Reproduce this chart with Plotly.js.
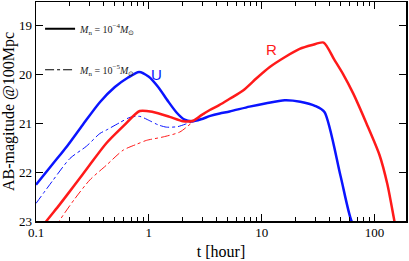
<!DOCTYPE html>
<html><head><meta charset="utf-8">
<script src="https://cdn.plot.ly/plotly-3.0.1.min.js"></script>
<style>html,body{margin:0;padding:0;background:#fff}</style>
</head><body><div id="chart" style="width:409px;height:261px"></div>
<script>
// Mn = 1e-4 Msun, U band (solid)
const tU4 = [0.1, 0.14, 0.187, 0.26, 0.368, 0.5, 0.65, 0.82, 1.0, 1.2, 1.48, 1.76, 2.05, 2.4, 2.9, 3.5, 4.25, 5.2, 7.8, 11, 16, 22, 30, 36, 50, 62.5, 75];
const mU4 = [22.26, 21.84, 21.48, 21.03, 20.57, 20.26, 20.07, 19.95, 20.05, 20.25, 20.55, 20.78, 20.92, 20.96, 20.92, 20.85, 20.80, 20.76, 20.66, 20.59, 20.53, 20.56, 20.65, 20.77, 22.08, 23.0, 23.3];
// Mn = 1e-4 Msun, R band (solid)
const tR4 = [0.11, 0.124, 0.16, 0.214, 0.3, 0.42, 0.6, 0.83, 1.09, 1.53, 2.01, 2.47, 2.9, 3.47, 4.2, 5.21, 6.84, 9, 11.8, 16, 21.7, 28, 35.4, 44, 52.5, 64.7, 84.7, 110.7, 130, 150, 165];
const mR4 = [23.17, 23.0, 22.68, 22.30, 21.85, 21.41, 21.05, 20.75, 20.77, 20.87, 20.96, 20.95, 20.84, 20.73, 20.63, 20.50, 20.33, 20.08, 19.85, 19.65, 19.48, 19.40, 19.35, 19.70, 19.99, 20.39, 21.0, 21.65, 22.25, 23.0, 23.5];
// Mn = 1e-5 Msun, U band (dash-dot)
const tU5 = [0.1, 0.14, 0.2, 0.28, 0.368, 0.42, 0.55, 0.68, 0.83, 1.02, 1.2, 1.43, 1.8, 2.1, 2.5, 2.9, 3.5, 4.25, 5.2];
const mU5 = [22.64, 22.18, 21.72, 21.47, 21.21, 21.14, 20.99, 20.88, 20.86, 20.95, 21.03, 21.08, 21.07, 21.02, 20.96, 20.92, 20.85, 20.80, 20.76];
// Mn = 1e-5 Msun, R band (dash-dot)
const tR5 = [0.15, 0.161, 0.22, 0.3, 0.42, 0.593, 0.78, 0.955, 1.34, 1.88, 2.38, 2.9, 3.47, 4.2, 5.21, 6.84];
const mR5 = [23.15, 23.0, 22.55, 22.16, 21.86, 21.55, 21.43, 21.35, 21.28, 21.18, 21.0, 20.86, 20.73, 20.63, 20.50, 20.33];

const legendNames = ['<i>M</i><sub>n</sub> = 10<sup>−4</sup><i>M</i><sub>⊙</sub>', '<i>M</i><sub>n</sub> = 10<sup>−5</sup><i>M</i><sub>⊙</sub>'];
const bandLabels = ['U', 'R'];
const bandLabelT = [1.17, 12.2];
const bandLabelM = [20.0, 19.49];

const xMajor = [0.1, 1, 10, 100];
const xMajorText = ['0.1', '1', '10', '100'];
const xMinor = [];
[0.1, 1, 10, 100].forEach(d => { for (let k = 2; k <= 9; k++) xMinor.push(d * k); });
const yTicks = [19, 20, 21, 22, 23];

const blue = '#0a14ff', red = '#ff1a1a';
const spl = {shape: 'spline', smoothing: 0.7};
const traces = [
  {x: tU5, y: mU5, mode: 'lines', line: Object.assign({color: blue, width: 1, dash: 'dashdot'}, spl), showlegend: false},
  {x: tR5, y: mR5, mode: 'lines', line: Object.assign({color: red, width: 1, dash: 'dashdot'}, spl), showlegend: false},
  {x: tU4, y: mU4, mode: 'lines', line: Object.assign({color: blue, width: 2.5}, spl), showlegend: false},
  {x: tR4, y: mR4, mode: 'lines', line: Object.assign({color: red, width: 2.5}, spl), showlegend: false},
  {x: [null], y: [null], mode: 'lines', name: legendNames[0], line: {color: 'black', width: 2}, legendgroup: 'a'},
  {x: [null], y: [null], mode: 'lines', name: legendNames[1], line: {color: 'black', width: 1, dash: 'dashdot'}, legendgroup: 'b'}
];

const serif = 'Liberation Serif, Times New Roman, serif';
const layout = {
  width: 409, height: 261,
  margin: {l: 36, r: 3, t: 2, b: 40},
  paper_bgcolor: 'white', plot_bgcolor: 'white',
  showlegend: true,
  legend: {x: 0.011, y: 0.944, xanchor: 'left', yanchor: 'top', bgcolor: 'rgba(0,0,0,0)', borderwidth: 0,
           font: {family: serif, size: 10, color: '#222'}, tracegroupgap: 22, traceorder: 'grouped'},
  xaxis: {type: 'log', range: [-1, 2.279], tickmode: 'array', tickvals: xMajor, ticktext: xMajorText,
          ticks: 'inside', ticklen: 7, tickwidth: 1, tickcolor: 'black', showline: true, linecolor: 'black', linewidth: 1.5,
          mirror: 'ticks', showgrid: false, zeroline: false, ticklabelstandoff: -1,
          minor: {tickmode: 'array', tickvals: xMinor, ticks: 'inside', ticklen: 4, tickwidth: 1, tickcolor: 'black', showgrid: false},
          tickfont: {family: serif, size: 13, color: 'black'},
          title: {text: 't [hour]', font: {family: serif, size: 16, color: 'black'}, standoff: 6}},
  yaxis: {range: [23, 18.52], tickmode: 'array', tickvals: yTicks,
          ticks: 'inside', ticklen: 7, tickwidth: 1, tickcolor: 'black', showline: true, linecolor: 'black', linewidth: 1.5,
          mirror: 'ticks', showgrid: false, zeroline: false,
          tickfont: {family: serif, size: 13, color: 'black'},
          title: {text: 'AB-magitude @100Mpc', font: {family: serif, size: 16, color: 'black'}, standoff: 2}},
  annotations: bandLabels.map((s, i) => ({x: Math.log10(bandLabelT[i]), y: bandLabelM[i], xref: 'x', yref: 'y', text: s,
      showarrow: false, font: {family: 'Liberation Sans, Arial, sans-serif', size: 15, color: i === 0 ? blue : red}}))
};
Plotly.newPlot('chart', traces, layout, {displayModeBar: false, staticPlot: true});
</script></body></html>
